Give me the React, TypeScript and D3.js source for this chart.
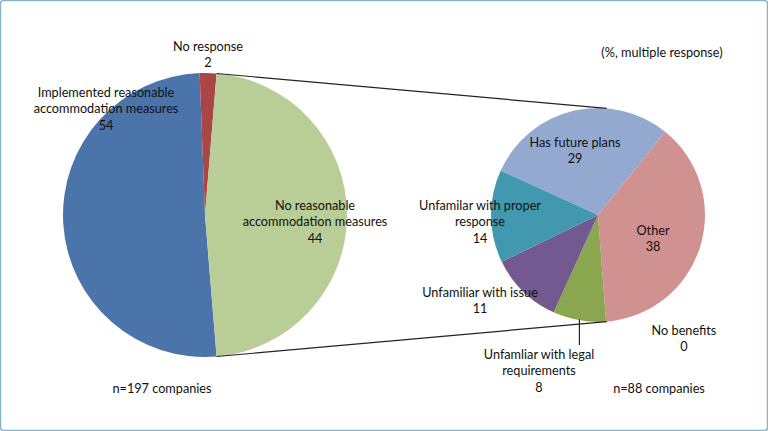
import React from "react";
import * as d3 from "d3";

// Primary pie
const primaryCategories = ["Implemented reasonable accommodation measures", "No response", "No reasonable accommodation measures"];
const primaryLabelValues = [54, 2, 44];
// share of the circle each slice occupies, as drawn in the reference
const primarySliceShares = [50.7, 1.9, 47.4];
const primaryColors = ["#4A74AA", "#AA4643", "#B9CD96"];

// Secondary pie (%, multiple response)
const secondaryCategories = ["Has future plans", "Other", "No benefits", "Unfamliar with legal requirements", "Unfamiliar with issue", "Unfamilar with proper response"];
const secondaryValues = [29, 38, 0, 8, 11, 14];
const secondaryColors = ["#93A9CF", "#D09291", "#BBBBBB", "#8AA64F", "#725990", "#4298AF"];

const W = 768, H = 431;
const FONT = "Lato, 'Open Sans', sans-serif";
const deg = Math.PI / 180;

export default function App() {
  const c1 = { x: 205, y: 215 }, r1 = 142;
  const c2 = { x: 598, y: 215 }, r2 = 107;

  const greenShare = primarySliceShares[2] / d3.sum(primarySliceShares);
  const half = greenShare * Math.PI; // half of green angle
  const pStart = Math.PI / 2 + half;
  const pie1 = d3.pie<number>().sort(null).startAngle(pStart).endAngle(pStart + 2 * Math.PI)(primarySliceShares);
  const arc1 = d3.arc<d3.PieArcDatum<number>>().innerRadius(0).outerRadius(r1);

  const sStart = -65.5 * deg;
  const pie2 = d3.pie<number>().sort(null).startAngle(sStart).endAngle(sStart + 2 * Math.PI)(secondaryValues);
  const arc2 = d3.arc<d3.PieArcDatum<number>>().innerRadius(0).outerRadius(r2);

  const pt = (c: { x: number; y: number }, r: number, a: number) => [c.x + r * Math.sin(a), c.y - r * Math.cos(a)];
  const topA = Math.PI / 2 - half;
  const botA = Math.PI / 2 + half;
  const [tx1, ty1] = pt(c1, r1, topA);
  const [bx1, by1] = pt(c1, r1, botA);
  const [tx2, ty2] = pt(c2, r2, topA);
  const [bx2, by2] = pt(c2, r2, botA);

  const legal = pie2[3];
  const mid = (legal.startAngle + legal.endAngle) / 2;
  const [lx, ly] = pt(c2, r2 - 1, mid);

  const txt = (lines: string[], x: number, y: number, key: string) => (
    <text key={key} x={x} y={y} textAnchor="middle" fontFamily={FONT} fontSize={12.7} fill="#111">
      {lines.map((l, i) => (
        <tspan key={i} x={x} dy={i === 0 ? 0 : 16.4}>{l}</tspan>
      ))}
    </text>
  );

  return (
    <svg width={W} height={H} style={{ position: "absolute", left: 0, top: 0, background: "#fff" }}>
      <rect x={0.5} y={0.5} width={W - 1} height={H - 1} rx={3} fill="#fff" stroke="#86B6C6" strokeWidth={1.5} />
      <g transform={`translate(${c1.x},${c1.y})`}>
        {pie1.map((d, i) => (
          <path key={i} d={arc1(d) || ""} fill={primaryColors[i]} />
        ))}
      </g>
      <g transform={`translate(${c2.x},${c2.y})`}>
        {pie2.map((d, i) => (
          <path key={i} d={arc2(d) || ""} fill={secondaryColors[i]} />
        ))}
      </g>
      <line x1={tx1} y1={ty1} x2={tx2} y2={ty2} stroke="#222" strokeWidth={1.2} />
      <line x1={bx1} y1={by1} x2={bx2} y2={by2} stroke="#222" strokeWidth={1.2} />
      <line x1={lx} y1={ly} x2={lx} y2={345} stroke="#222" strokeWidth={1.2} />

      {txt(["No response", String(primaryLabelValues[1])], 208, 51, "nr")}
      {txt(["Implemented reasonable", "accommodation measures", String(primaryLabelValues[0])], 106, 97, "imp")}
      {txt(["No reasonable", "accommodation measures", String(primaryLabelValues[2])], 315, 210, "nrm")}
      {txt(["(%, multiple response)"], 662, 57, "mr")}
      {txt(["Has future plans", String(secondaryValues[0])], 575, 147, "fp")}
      {txt(["Unfamilar with proper", "response", String(secondaryValues[5])], 480, 210, "pr")}
      {txt(["Other", String(secondaryValues[1])], 653, 235, "ot")}
      {txt(["Unfamiliar with issue", String(secondaryValues[4])], 480, 297, "is")}
      {txt(["No benefits", String(secondaryValues[2])], 684, 335, "nb")}
      {txt(["Unfamliar with legal", "requirements", String(secondaryValues[3])], 539, 359, "lg")}
      {txt(["n=197 companies"], 162, 393, "n1")}
      {txt(["n=88 companies"], 659, 393, "n2")}
    </svg>
  );
}
